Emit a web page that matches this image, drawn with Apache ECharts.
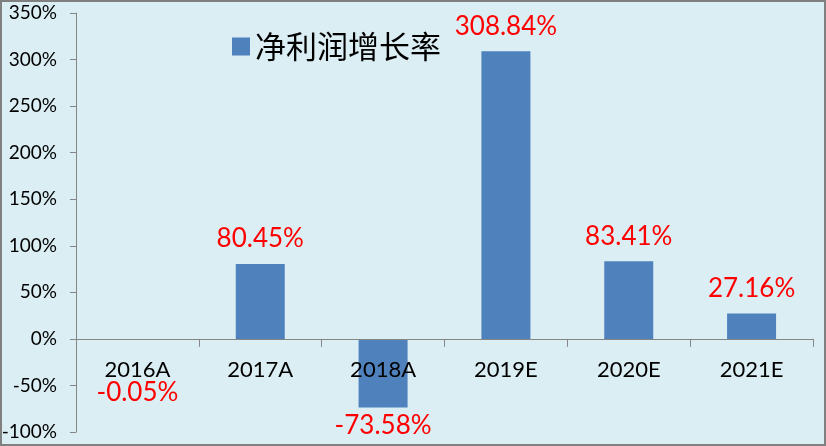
<!DOCTYPE html>
<html><head><meta charset="utf-8">
<script src="https://cdn.jsdelivr.net/npm/echarts@6/dist/echarts.min.js"></script>
<style>html,body{margin:0;padding:0;background:#fff}#c{width:826px;height:446px}</style>
</head><body><div id="c"></div>
<script>
var categories = ['2016A','2017A','2018A','2019E','2020E','2021E'];
var growth = [-0.05, 80.45, -73.58, 308.84, 83.41, 27.16];
var seriesName = '净利润增长率';

var chart = echarts.init(document.getElementById('c'));
var data = growth.map(function(v, i){
  var d = {value: v};
  if (i === 0) d.label = {position: 'bottom', distance: 41};
  else if (v < 0) d.label = {position: 'bottom', distance: 5};
  return d;
});
var yMin = -100, yMax = 350, gridTop = 13, gridBottom = 14, H = 446;
var plotH = H - gridTop - gridBottom;
var zeroOffset = -plotH * (0 - yMin) / (yMax - yMin);
chart.setOption({
  backgroundColor: '#DBEEF4',
  animation: false,
  textStyle: {fontFamily: 'Lato, "Noto Sans CJK SC", sans-serif'},
  graphic: [{type:'rect', shape:{x:1,y:1,width:824,height:444}, style:{fill:'none', stroke:'#808080', lineWidth:2}, silent:true}],
  legend: {
    data: [seriesName], left: 227, top: 26, itemWidth: 18, itemHeight: 18, itemGap: 12,
    icon: 'rect',
    textStyle: {fontSize: 31, color: '#000', fontFamily: '"Noto Sans CJK SC", sans-serif'}
  },
  grid: {left: 76, right: 13, top: gridTop, bottom: gridBottom, containLabel: false, outerBoundsMode: 'none'},
  xAxis: {
    type: 'category', data: categories, offset: zeroOffset, z: 10,
    axisLine: {onZero: false, lineStyle: {color: '#868686', width: 1}},
    axisTick: {show: true, alignWithLabel: false, length: 8, lineStyle: {color: '#868686'}},
    axisLabel: {fontSize: 22, color: '#000', margin: 20}
  },
  yAxis: {
    type: 'value', min: yMin, max: yMax, interval: 50,
    axisLine: {show: true, lineStyle: {color: '#868686'}},
    axisTick: {show: true, length: 6, lineStyle: {color: '#868686'}},
    splitLine: {show: false},
    axisLabel: {fontSize: 19, color: '#000', margin: 19, formatter: '{value}%'}
  },
  series: [{
    name: seriesName, type: 'bar', data: data, barWidth: 49,
    itemStyle: {color: '#4F81BD'},
    label: {show: true, position: 'top', distance: 12, color: '#FF0000', fontSize: 26,
      formatter: function(p){ return p.value.toFixed(2) + '%'; }}
  }]
});
</script></body></html>
